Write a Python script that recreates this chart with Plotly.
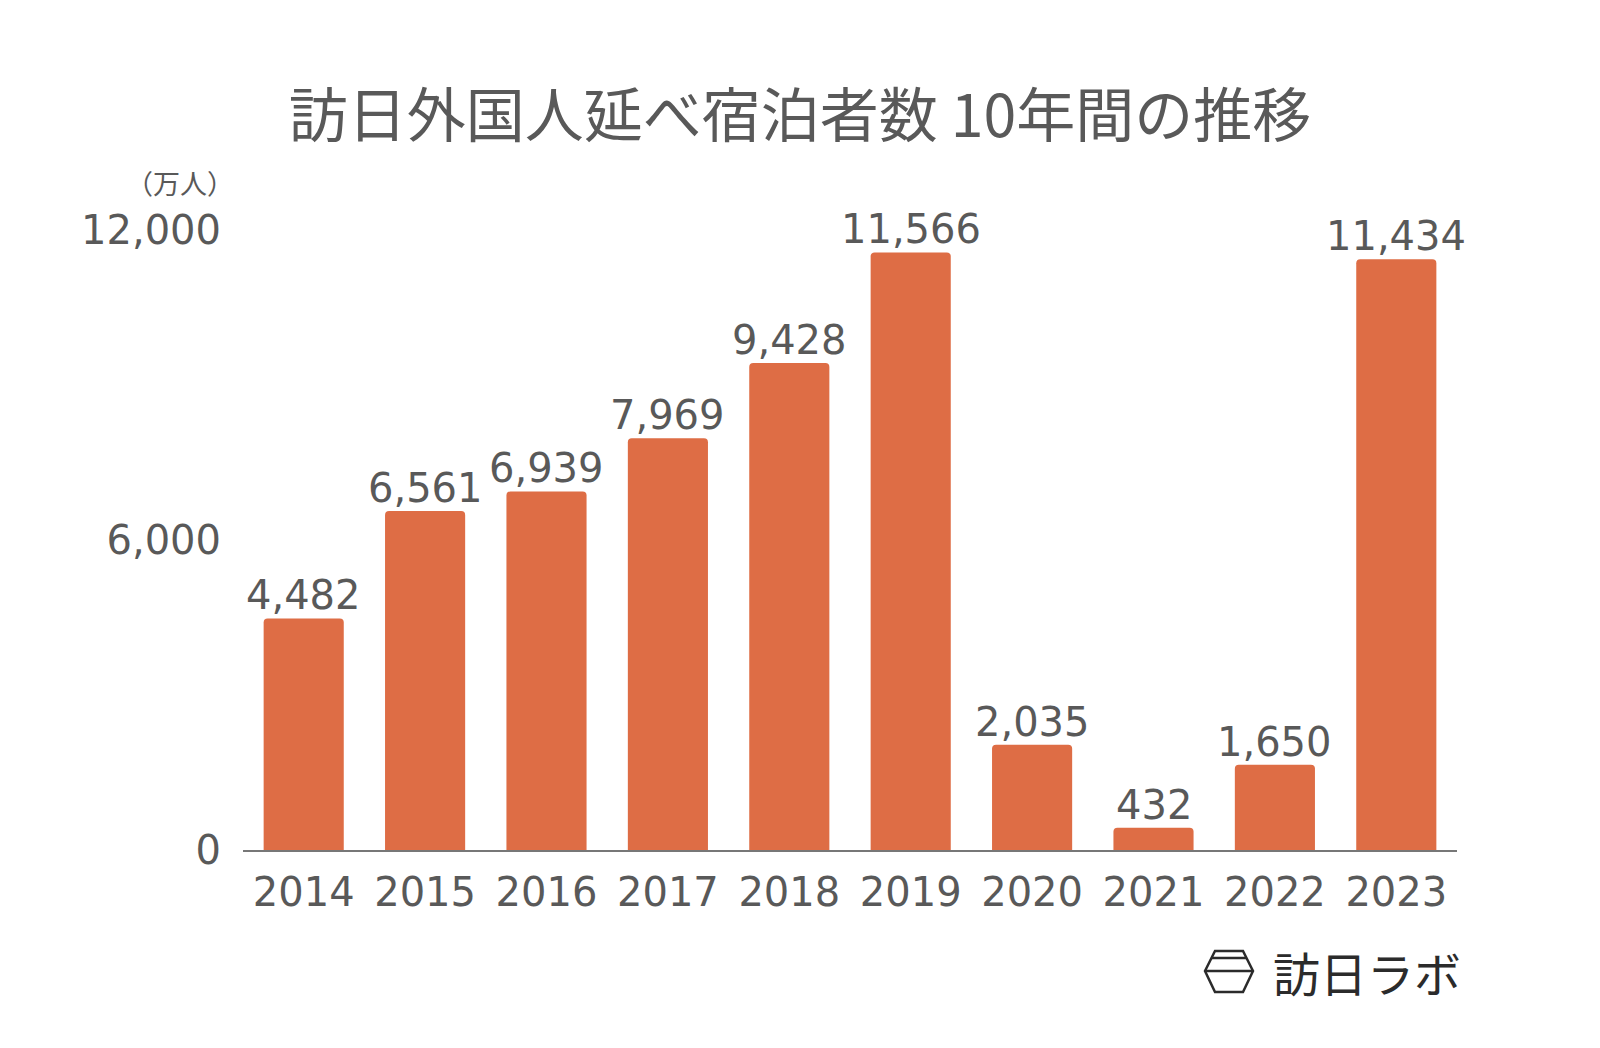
import plotly.graph_objects as go

years = ["2014", "2015", "2016", "2017", "2018", "2019", "2020", "2021", "2022", "2023"]
values = [4482, 6561, 6939, 7969, 9428, 11566, 2035, 432, 1650, 11434]
y_ticks = [0, 6000, 12000]
title_text = "訪日外国人延べ宿泊者数 10年間の推移"
unit_text = "（万人）"
logo_text = "訪日ラボ"

W, H = 1600, 1048
OFF = 8  # page body margin compensation
# desired screen positions
PL, PR, PT, PB = 243, 1457, 230, 850
L, T = PL - OFF, PT - OFF
R = W - (PR - OFF)
B = H - (PB - OFF)
NUMFONT = "DejaVu Sans"
JPFONT = "Noto Sans CJK JP"
TXT = "#595959"
BAR = "#DE6D45"

def px(x):
    return (x - OFF - L) / (W - L - R)

def py(y):
    return (H - B - (y - OFF)) / (H - T - B)

fig = go.Figure(go.Bar(
    x=years, y=values,
    marker=dict(color=BAR, cornerradius=4, line=dict(width=0)),
    hoverinfo="x+y",
))

# value labels: category axes position annotations by category serial number
for i, v in enumerate(values):
    fig.add_annotation(x=i, y=v, text=f"{v:,}", xref="x", yref="y",
                       yanchor="middle", xanchor="center", yshift=23,
                       showarrow=False,
                       font=dict(size=40, color=TXT, family=NUMFONT))

fig.update_layout(
    width=W, height=H,
    margin=dict(l=L, r=R, t=T, b=B, pad=0),
    paper_bgcolor="white", plot_bgcolor="white",
    bargap=0.34, showlegend=False,
    font=dict(family=NUMFONT, color=TXT),
    title=dict(text=title_text, x=(800 - OFF) / W, xanchor="center", xref="container",
               y=1 - (116 - OFF) / H, yanchor="middle", yref="container",
               font=dict(size=59, color=TXT, family=JPFONT)),
)
fig.update_xaxes(type="category", range=[-0.5, len(years) - 0.5],
                 showline=True, linecolor="#777777", linewidth=1.5,
                 ticks="", tickfont=dict(size=40, color=TXT, family=NUMFONT),
                 ticklabelstandoff=6, showgrid=False)
fig.update_yaxes(range=[0, 12000], tickvals=y_ticks, tickformat=",",
                 showgrid=False, zeroline=False, showline=False, ticks="",
                 tickfont=dict(size=40, color=TXT, family=NUMFONT),
                 ticklabelstandoff=21)

fig.add_annotation(text=unit_text, xref="paper", yref="paper",
                   x=px(236), y=py(182), xanchor="right", yanchor="middle",
                   showarrow=False, font=dict(size=27, color=TXT, family=JPFONT))

# logo
fig.add_annotation(text=logo_text, xref="paper", yref="paper",
                   x=px(1271), y=py(971), xanchor="left", yanchor="middle",
                   showarrow=False, font=dict(size=47, color="#2b2b2b", family=JPFONT))
hexpts = [(1215, 951), (1243, 951), (1253, 971), (1243, 992), (1215, 992), (1205, 971)]
path = "M " + " L ".join(f"{px(a)},{py(b)}" for a, b in hexpts) + " Z"
fig.add_shape(type="path", path=path, xref="paper", yref="paper",
              line=dict(color="#2b2b2b", width=2.5))
fig.add_shape(type="line", xref="paper", yref="paper",
              x0=px(1211), x1=px(1247), y0=py(958), y1=py(958),
              line=dict(color="#2b2b2b", width=2.5))
fig.add_shape(type="line", xref="paper", yref="paper",
              x0=px(1205), x1=px(1253), y0=py(971), y1=py(971),
              line=dict(color="#2b2b2b", width=2.5))

fig.write_html("out.html")
